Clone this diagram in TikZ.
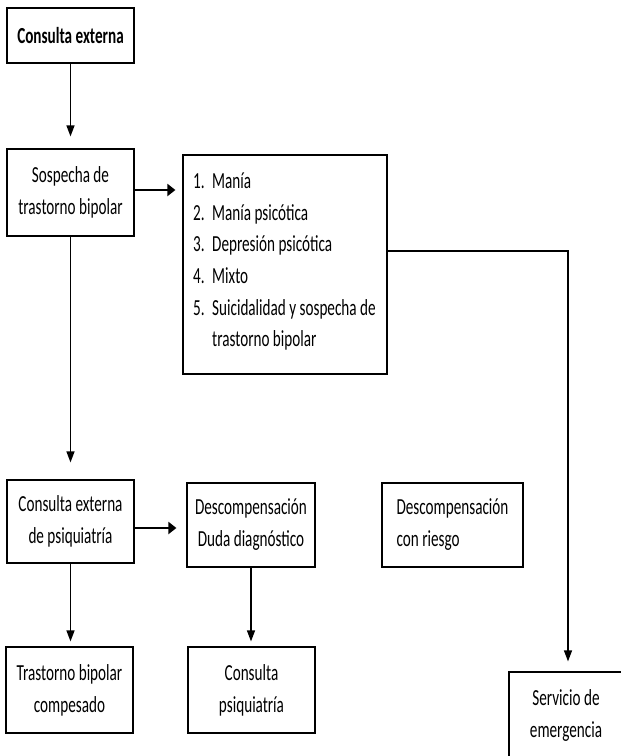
\documentclass[tikz,border=0pt]{standalone}
\usepackage{fontspec}
\setmainfont{Carlito}[FakeStretch=0.66]
\usetikzlibrary{arrows.meta}
\newcommand\dgfont{\fontsize{23}{32}\selectfont}
\begin{document}
\begin{tikzpicture}[x=1pt,y=-1pt,
  box/.style={draw, line width=1.2pt, inner sep=0pt, align=center, font=\dgfont},
  itemtext/.style={inner sep=0pt, anchor=base west, font=\dgfont},
  vflow/.style={line width=1.3pt, -{Triangle[length=11pt,width=8pt]}},
  hflow/.style={line width=2pt, -{Triangle[length=8pt,width=12pt]}}]
\clip (0,0) rectangle (621,756);
\useasboundingbox (0,0) rectangle (621,756);

% boxes
\node[box, minimum width=127pt, minimum height=55pt] (ce) at (70.5,35.5) {\textbf{Consulta externa}};
\node[box, minimum width=127pt, minimum height=87pt] (sos) at (70.5,192.5) {Sospecha de\\trastorno bipolar};
\node[box, minimum width=204pt, minimum height=219pt] (list) at (285,264.5) {};
\node[box, minimum width=127pt, minimum height=83pt] (cep) at (70.5,521.5) {Consulta externa\\de psiquiatría};
\node[box, minimum width=128pt, minimum height=84pt] (desc) at (251,525) {Descompensación\\Duda diagnóstico};
\node[box, align=left, minimum width=141pt, minimum height=84pt] (riesgo) at (452.5,525) {Descompensación\\con riesgo};
\node[box, minimum width=127pt, minimum height=86pt] (tbc) at (69.5,690) {Trastorno bipolar\\compesado};
\node[box, minimum width=127pt, minimum height=86pt] (cp) at (251.5,690) {Consulta\\psiquiatría};
\node[box, minimum width=114pt, minimum height=86pt] (se) at (566,715) {Servicio de\\emergencia};

% numbered list inside the criteria box
\node[itemtext] (m1) at (193,188) {\makebox[19pt][l]{1.}Manía};
\node[itemtext] (m2) at (193,220) {\makebox[19pt][l]{2.}Manía psicótica};
\node[itemtext] (m3) at (193,251.5) {\makebox[19pt][l]{3.}Depresión psicótica};
\node[itemtext] (m4) at (193,283) {\makebox[19pt][l]{4.}Mixto};
\node[itemtext] (m5) at (193,315) {\makebox[19pt][l]{5.}Suicidalidad y sospecha de};
\node[itemtext] (m5b) at (212,346.5) {trastorno bipolar};

% connectors
\draw[vflow, shorten >=12pt] (ce.south) -- (sos.north);
\draw[hflow, shorten >=7pt] ([yshift=2.5pt]sos.east) -- ([yshift=2.5pt]sos.east -| list.west);
\draw[vflow, shorten >=17pt] (sos.south) -- (cep.north);
\draw[hflow, shorten >=10pt] ([yshift=-6.5pt]cep.east) -- ([yshift=-6.5pt]cep.east -| desc.west);
\draw[vflow, shorten >=5pt] (cep.south) -- (cep.south |- tbc.north);
\draw[vflow, shorten >=5pt] (desc.south) -- (desc.south |- cp.north);
\draw[vflow, shorten >=10pt] ([yshift=13.5pt]list.east) -| ([xshift=2pt]se.north);
\end{tikzpicture}
\end{document}
